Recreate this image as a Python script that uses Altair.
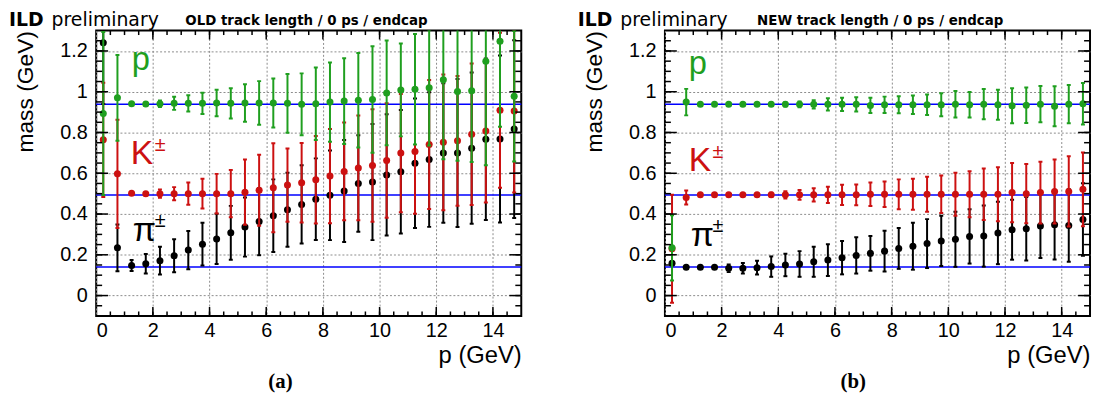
import altair as alt
import pandas as pd

# ---------------- data ----------------
p_bins = [0.25, 0.75, 1.25, 1.75, 2.25, 2.75, 3.25, 3.75, 4.25, 4.75,
          5.25, 5.75, 6.25, 6.75, 7.25, 7.75, 8.25, 8.75, 9.25, 9.75,
          10.25, 10.75, 11.25, 11.75, 12.25, 12.75, 13.25, 13.75, 14.25, 14.75]

# (a) OLD track length
old_p_mass = [0.893, 0.970, 0.941, 0.940, 0.941, 0.943, 0.943, 0.943, 0.945, 0.943,
              0.945, 0.945, 0.945, 0.943, 0.938, 0.941, 0.949, 0.954, 0.958, 0.962,
              0.994, 1.009, 1.012, 1.020, 1.059, 1.001, 1.005, 1.149, 1.248, 0.978]
old_p_err = [0.40, 0.21, 0.006, 0.008, 0.016, 0.032, 0.040, 0.052, 0.065, 0.074,
             0.092, 0.107, 0.120, 0.144, 0.152, 0.178, 0.194, 0.210, 0.232, 0.261,
             0.257, 0.228, 0.271, 0.284, 0.390, 0.340, 0.350, 0.510, 0.420, 0.320]
old_k_mass = [0.764, 0.597, 0.502, 0.500, 0.500, 0.500, 0.500, 0.500, 0.500, 0.500,
              0.507, 0.517, 0.529, 0.542, 0.553, 0.568, 0.586, 0.609, 0.626, 0.638,
              0.663, 0.699, 0.707, 0.741, 0.752, 0.759, 0.791, 0.807, 0.909, 0.906]
old_k_err = [0.28, 0.266, 0.005, 0.008, 0.020, 0.032, 0.055, 0.073, 0.097, 0.116,
             0.160, 0.174, 0.218, 0.180, 0.195, 0.215, 0.231, 0.240, 0.257, 0.276,
             0.281, 0.290, 0.306, 0.316, 0.333, 0.318, 0.347, 0.350, 0.380, 0.400]
old_pi_mass = [1.240, 0.234, 0.147, 0.156, 0.171, 0.195, 0.223, 0.252, 0.278, 0.308,
               0.336, 0.363, 0.392, 0.421, 0.447, 0.473, 0.492, 0.513, 0.550, 0.557,
               0.592, 0.607, 0.649, 0.667, 0.699, 0.699, 0.723, 0.767, 0.768, 0.817]
old_pi_err = [0.30, 0.115, 0.027, 0.048, 0.068, 0.081, 0.094, 0.105, 0.123, 0.132,
              0.145, 0.165, 0.178, 0.182, 0.192, 0.200, 0.220, 0.250, 0.237, 0.285,
              0.297, 0.303, 0.318, 0.330, 0.342, 0.363, 0.371, 0.396, 0.410, 0.436]

# (b) NEW track length
new_p_mass = [0.234, 0.949, 0.938, 0.938, 0.938, 0.938, 0.938, 0.938, 0.938, 0.938,
              0.938, 0.938, 0.938, 0.938, 0.933, 0.936, 0.936, 0.936, 0.936, 0.936,
              0.938, 0.936, 0.939, 0.936, 0.931, 0.934, 0.939, 0.929, 0.939, 0.941]
new_p_err = [0.16, 0.065, 0.003, 0.003, 0.004, 0.005, 0.006, 0.008, 0.010, 0.014,
             0.020, 0.030, 0.032, 0.035, 0.037, 0.040, 0.042, 0.045, 0.050, 0.056,
             0.065, 0.063, 0.074, 0.074, 0.086, 0.087, 0.089, 0.098, 0.094, 0.102]
new_k_mass = [0.230, 0.481, 0.494, 0.494, 0.494, 0.494, 0.494, 0.494, 0.494, 0.494,
              0.494, 0.494, 0.494, 0.494, 0.497, 0.497, 0.497, 0.497, 0.497, 0.497,
              0.497, 0.497, 0.497, 0.497, 0.505, 0.500, 0.505, 0.510, 0.511, 0.521]
new_k_err = [0.265, 0.034, 0.003, 0.003, 0.004, 0.005, 0.007, 0.010, 0.018, 0.024,
             0.032, 0.040, 0.050, 0.051, 0.058, 0.063, 0.073, 0.076, 0.086, 0.092,
             0.105, 0.113, 0.126, 0.132, 0.145, 0.145, 0.152, 0.157, 0.172, 0.181]
new_pi_mass = [0.158, 0.139, 0.139, 0.139, 0.134, 0.134, 0.137, 0.142, 0.150, 0.155,
               0.166, 0.174, 0.186, 0.197, 0.207, 0.218, 0.231, 0.242, 0.255, 0.268,
               0.276, 0.290, 0.292, 0.307, 0.323, 0.328, 0.341, 0.347, 0.344, 0.373]
new_pi_err = [0.005, 0.004, 0.004, 0.005, 0.019, 0.026, 0.034, 0.050, 0.055, 0.063,
              0.074, 0.078, 0.082, 0.089, 0.085, 0.100, 0.100, 0.115, 0.120, 0.123,
              0.135, 0.133, 0.150, 0.153, 0.147, 0.156, 0.157, 0.170, 0.178, 0.178]

pdg_masses = [0.1396, 0.4937, 0.9383]
species = ["pi", "K", "p"]
colors = ["#000000", "#cc1111", "#1f9f1f"]

x_major = [0, 2, 4, 6, 8, 10, 12, 14]
y_major = [0, 0.2, 0.4, 0.6, 0.8, 1.0, 1.2]
x_minor = [0.5 * i for i in range(1, 30)]
y_minor = [round(-0.1 + 0.05 * i, 3) for i in range(1, 28)]

W, H = 429, 288
FONT = "Liberation Sans"

xs = alt.Scale(domain=[0, 15], nice=False, zero=False)
ys = alt.Scale(domain=[-0.1, 1.3], nice=False, zero=False)

XAXIS = alt.Axis(values=x_major, format="~g", tickSize=0, labelPadding=5,
                 labelFont=FONT, labelFontSize=20, labelColor="black",
                 grid=True, gridColor="#8c8c8c", gridDash=[2, 2], gridWidth=1,
                 domain=False, title="p (GeV)", titleAnchor="end",
                 titleFont=FONT, titleFontSize=24, titleFontWeight="normal",
                 titleColor="black", titlePadding=3)
YAXIS = alt.Axis(values=y_major, format="~g", tickSize=0, labelPadding=9,
                 labelFont=FONT, labelFontSize=20, labelColor="black",
                 grid=True, gridColor="#8c8c8c", gridDash=[2, 2], gridWidth=1,
                 domain=False, title="mass (GeV)", titleAnchor="end",
                 titleFont=FONT, titleFontSize=23, titleFontWeight="normal",
                 titleColor="black", titlePadding=22)


def X(f):
    return alt.X(f, type="quantitative", scale=xs, axis=XAXIS)


def Y(f):
    return alt.Y(f, type="quantitative", scale=ys, axis=YAXIS)


def build_df(masses, errs):
    frames = []
    for s, m, e in zip(species, masses, errs):
        frames.append(pd.DataFrame({
            "p": p_bins, "m": m, "e": e, "species": s,
            "lo": [a - b for a, b in zip(m, e)],
            "hi": [a + b for a, b in zip(m, e)],
        }))
    return pd.concat(frames, ignore_index=True)


def text_layer(txt, x, y, size, color="black", font=FONT, weight="normal",
               align="left", baseline="alphabetic"):
    return alt.Chart(pd.DataFrame({"t": [txt]})).mark_text(
        align=align, baseline=baseline, font=font, fontSize=size,
        fontWeight=weight, color=color
    ).encode(text="t:N", x=alt.value(x), y=alt.value(y))


def panel(masses, errs, subtitle, sub_x, caption, cap_x, lab):
    df = build_df(masses, errs)
    layers = []

    layers.append(alt.Chart(pd.DataFrame({"mass": pdg_masses})).mark_rule(
        color="#0000ff", strokeWidth=1.5).encode(
        y=Y("mass"), x=alt.value(0), x2=alt.value(W)))

    for s, c in zip(species, colors):
        sub = df[df["species"] == s]
        base = alt.Chart(sub)
        layers.append(base.mark_rule(color=c, strokeWidth=2, clip=True).encode(
            x=X("p"), y=Y("lo"), y2="hi:Q"))
        caps = base.transform_calculate(xl="datum.p - 0.07", xr="datum.p + 0.07")
        for f in ["lo", "hi"]:
            layers.append(caps.mark_rule(color=c, strokeWidth=2, clip=True).encode(
                x=X("xl"), x2="xr:Q", y=Y(f)))
        layers.append(base.mark_circle(color=c, size=50, opacity=1, clip=True).encode(
            x=X("p"), y=Y("m")))

    # inward ticks on all four sides
    def xt(vals, L):
        b = alt.Chart(pd.DataFrame({"v": vals})).mark_rule(color="black", strokeWidth=1.5)
        return [b.encode(x=X("v"), y=alt.value(H), y2=alt.value(H - L)),
                b.encode(x=X("v"), y=alt.value(0), y2=alt.value(L))]

    def yt(vals, L):
        b = alt.Chart(pd.DataFrame({"v": vals})).mark_rule(color="black", strokeWidth=1.5)
        return [b.encode(y=Y("v"), x=alt.value(0), x2=alt.value(L)),
                b.encode(y=Y("v"), x=alt.value(W), x2=alt.value(W - L))]

    layers += xt(x_minor, 4.5) + xt(x_major[1:], 9) + yt(y_minor, 6) + yt(y_major, 12)

    # particle labels
    (px, py), (kx, ky), (pix, piy) = lab
    layers.append(text_layer("p", px, py, 33, colors[2]))
    layers.append(text_layer("K", kx, ky, 34, colors[1]))
    layers.append(text_layer("±", kx + 24, ky - 13, 20, colors[1]))
    layers.append(text_layer("π", pix, piy, 34, colors[0]))
    layers.append(text_layer("±", pix + 22, piy - 14, 20, colors[0]))

    # header
    layers.append(text_layer("ILD", -88, -20, 19, font="DejaVu Sans", weight="bold", baseline="top"))
    layers.append(text_layer("preliminary", -45, -20, 19, font="DejaVu Sans", baseline="top"))
    layers.append(text_layer(subtitle, sub_x, -17, 13.5, font="DejaVu Sans",
                             weight="bold", baseline="top"))
    # caption
    layers.append(text_layer(caption, cap_x, 361, 21, font="Liberation Serif",
                             weight="bold", align="center"))

    return alt.layer(*layers).properties(width=W, height=H)


left = panel([old_pi_mass, old_k_mass, old_p_mass], [old_pi_err, old_k_err, old_p_err],
             "OLD track length / 0 ps / endcap", 90, "(a)", 186,
             [(36, 40), (35, 135), (37, 212)])
right = panel([new_pi_mass, new_k_mass, new_p_mass], [new_pi_err, new_k_err, new_p_err],
              "NEW track length / 0 ps / endcap", 93, "(b)", 190,
              [(24, 44), (24, 142), (26, 217)])

chart = alt.hconcat(left, right, spacing=54).properties(
    padding={"left": 0, "top": 0, "right": 0, "bottom": 0}
).configure(font=FONT).configure_view(stroke="black", strokeWidth=2)

chart.save("out.html", embed_options={"renderer": "svg", "actions": False})
